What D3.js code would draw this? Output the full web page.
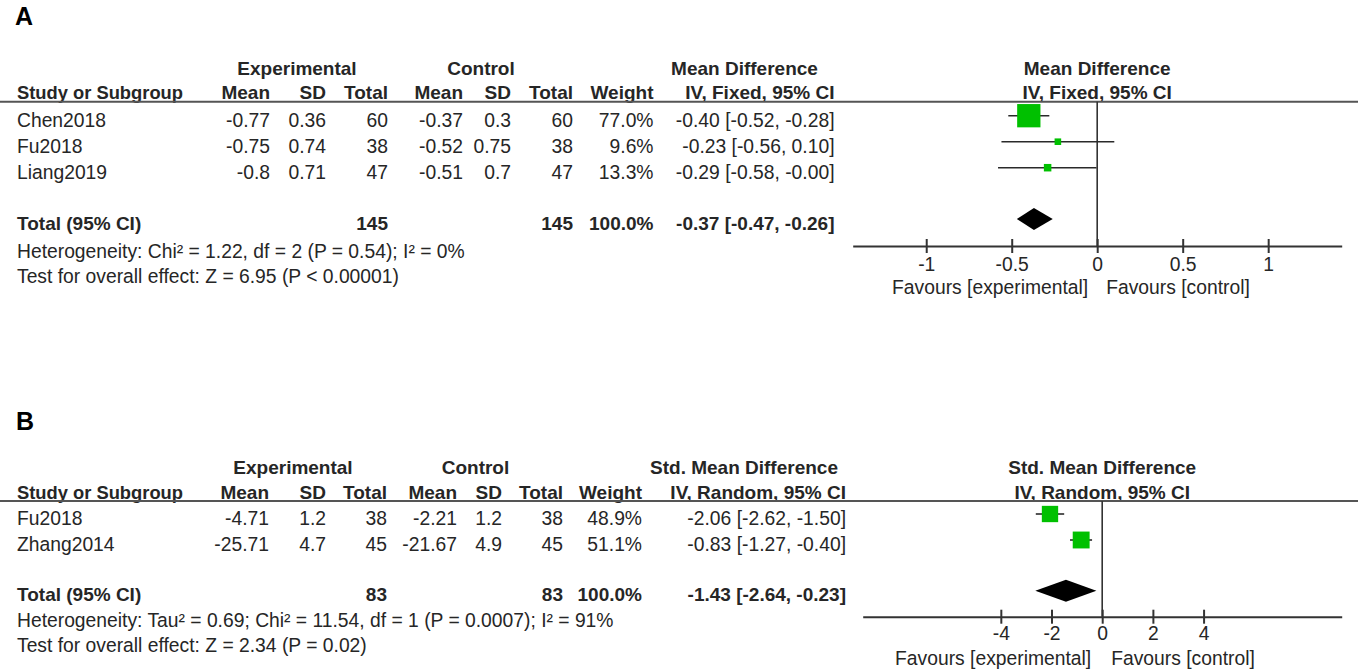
<!DOCTYPE html>
<html><head><meta charset="utf-8">
<script src="https://cdn.jsdelivr.net/npm/d3@7"></script>
<style>
body{margin:0;background:#fff;}
svg{display:block;font-family:"Liberation Sans",Arial,sans-serif;}
</style></head><body>
<svg id="chart" width="1359" height="670"></svg>
<script>
// ---------- Panel A data ----------
const studiesA = ["Chen2018", "Fu2018", "Liang2019"];
const expMeanA = [-0.77, -0.75, -0.8];
const expSDA = [0.36, 0.74, 0.71];
const expNA = [60, 38, 47];
const ctlMeanA = [-0.37, -0.52, -0.51];
const ctlSDA = [0.3, 0.75, 0.7];
const ctlNA = [60, 38, 47];
const weightA = [77.0, 9.6, 13.3];
const effectA = [-0.40, -0.23, -0.29];
const lowerA = [-0.52, -0.56, -0.58];
const upperA = [-0.28, 0.10, -0.004];
const totalNA = [145, 145];
const totalWeightA = 100.0;
const totalCIA = [-0.37, -0.47, -0.26];
const hetA = "Heterogeneity: Chi\u00b2 = 1.22, df = 2 (P = 0.54); I\u00b2 = 0%";
const testA = "Test for overall effect: Z = 6.95 (P < 0.00001)";
const ticksA = [-1, -0.5, 0, 0.5, 1];
const domainA = [-1.43, 1.43];
const effectTitleA = "Mean Difference";
const methodA = "IV, Fixed, 95% CI";

// ---------- Panel B data ----------
const studiesB = ["Fu2018", "Zhang2014"];
const expMeanB = [-4.71, -25.71];
const expSDB = [1.2, 4.7];
const expNB = [38, 45];
const ctlMeanB = [-2.21, -21.67];
const ctlSDB = [1.2, 4.9];
const ctlNB = [38, 45];
const weightB = [48.9, 51.1];
const effectB = [-2.06, -0.83];
const lowerB = [-2.62, -1.27];
const upperB = [-1.50, -0.40];
const totalNB = [83, 83];
const totalWeightB = 100.0;
const totalCIB = [-1.43, -2.64, -0.23];
const hetB = "Heterogeneity: Tau\u00b2 = 0.69; Chi\u00b2 = 11.54, df = 1 (P = 0.0007); I\u00b2 = 91%";
const testB = "Test for overall effect: Z = 2.34 (P = 0.02)";
const ticksB = [-4, -2, 0, 2, 4];
const domainB = [-9.45, 9.45];
const effectTitleB = "Std. Mean Difference";
const methodB = "IV, Random, 95% CI";

const favourLeft = "Favours [experimental]";
const favourRight = "Favours [control]";

// ---------- drawing ----------
const svg = d3.select("#chart");
const TXT = "#262626";
const FS = 19.3;
const FSB = 19;
const f2 = v => v.toFixed(2);
const ciText = (e, l, u) => `${f2(e)} [${f2(l)}, ${f2(u)}]`;
const sizeScale = d3.scaleLinear().domain([0, 100]).range([4.2, 29]);

function drawPanel(d, L) {
  const g = svg.append("g");
  const text = (x, y, s, anchor, bold) =>
    g.append("text").attr("x", x).attr("y", y).attr("text-anchor", anchor || "start")
      .attr("font-weight", bold ? "bold" : "normal").attr("font-size", bold ? FSB : FS)
      .attr("fill", TXT).text(s);

  // panel letter
  g.append("text").attr("x", L.letterX).attr("y", L.letterY).attr("font-size", 25)
    .attr("font-weight", "bold").attr("fill", "#000").text(d.letter);

  // group headers
  text(L.groupExpX, L.groupY, "Experimental", "middle", true);
  text(L.groupCtlX, L.groupY, "Control", "middle", true);
  text(L.groupEffX, L.groupY, d.effectTitle, "middle", true);

  // column headers
  const c = L.cols;
  text(17, L.headY, "Study or Subgroup", "start", true).attr("textLength", 166).attr("lengthAdjust", "spacingAndGlyphs");
  text(c.expMean, L.headY, "Mean", "end", true);
  text(c.expSD, L.headY, "SD", "end", true);
  text(c.expN, L.headY, "Total", "end", true);
  text(c.ctlMean, L.headY, "Mean", "end", true);
  text(c.ctlSD, L.headY, "SD", "end", true);
  text(c.ctlN, L.headY, "Total", "end", true);
  text(c.weight, L.headY, "Weight", "end", true);
  text(c.ci, L.headY, d.method, "end", true);

  // plot scale
  const x = d3.scaleLinear().domain(d.domain).range(L.plotRange);
  const x0 = x(0);
  text(x0, L.groupY, d.effectTitle, "middle", true);
  text(x0, L.headY, d.method, "middle", true);

  // header rule
  g.append("line").attr("x1", 0).attr("x2", 1358).attr("y1", L.lineY).attr("y2", L.lineY)
    .attr("stroke", "#555").attr("stroke-width", 2);

  // study rows
  d.studies.forEach((s, i) => {
    const y = L.rows[i];
    text(17, y, s);
    text(c.expMean, y, String(d.expMean[i]), "end");
    text(c.expSD, y, String(d.expSD[i]), "end");
    text(c.expN, y, String(d.expN[i]), "end");
    text(c.ctlMean, y, String(d.ctlMean[i]), "end");
    text(c.ctlSD, y, String(d.ctlSD[i]), "end");
    text(c.ctlN, y, String(d.ctlN[i]), "end");
    text(c.weight, y, d.weight[i].toFixed(1) + "%", "end");
    text(c.ci, y, ciText(d.effect[i], d.lower[i], d.upper[i]), "end");
  });

  // total row
  text(17, L.totalY, "Total (95% CI)", "start", true);
  text(c.expN, L.totalY, String(d.totalN[0]), "end", true);
  text(c.ctlN, L.totalY, String(d.totalN[1]), "end", true);
  text(c.weight, L.totalY, d.totalWeight.toFixed(1) + "%", "end", true);
  text(c.ci, L.totalY, ciText(d.totalCI[0], d.totalCI[1], d.totalCI[2]), "end", true);
  text(17, L.hetY, d.het);
  text(17, L.testY, d.test);

  // zero line
  g.append("line").attr("x1", x0).attr("x2", x0).attr("y1", L.lineY).attr("y2", L.axisY)
    .attr("stroke", "#333").attr("stroke-width", 1.6);

  // CI lines and squares
  const pts = d.studies.map((s, i) => ({ i, y: L.rows[i] + L.markOff }));
  g.selectAll(".ci").data(pts).join("line")
    .attr("x1", p => x(d.lower[p.i])).attr("x2", p => x(d.upper[p.i]))
    .attr("y1", p => p.y).attr("y2", p => p.y)
    .attr("stroke", "#2a2a2a").attr("stroke-width", 1.6);
  g.selectAll(".sq").data(pts).join("rect")
    .attr("x", p => x(d.effect[p.i]) - sizeScale(d.weight[p.i]) / 2)
    .attr("y", p => p.y - sizeScale(d.weight[p.i]) / 2)
    .attr("width", p => sizeScale(d.weight[p.i]))
    .attr("height", p => sizeScale(d.weight[p.i]))
    .attr("fill", "#00c000");

  // diamond
  const dy = L.totalY + L.diamOff, h = 11;
  g.append("path")
    .attr("d", `M${x(d.totalCI[1])},${dy}L${x(d.totalCI[0])},${dy - h}L${x(d.totalCI[2])},${dy}L${x(d.totalCI[0])},${dy + h}Z`)
    .attr("fill", "#000");

  // axis
  const ax = g.append("g").attr("transform", `translate(0,${L.axisY})`)
    .call(d3.axisBottom(x).tickValues(d.ticks).tickFormat(v => String(v)).tickSizeOuter(0).tickSizeInner(7));
  ax.attr("font-size", FS).attr("font-family", null);
  ax.select(".domain").attr("stroke", "#333").attr("stroke-width", 2);
  ax.selectAll(".tick line").attr("y1", -7).attr("y2", 7).attr("stroke", "#333").attr("stroke-width", 2);
  ax.selectAll(".tick text").attr("y", L.tickLabelY - L.axisY).attr("dy", null).attr("fill", TXT);

  text(x0 - L.favGapL, L.favY, favourLeft, "end");
  text(x0 + L.favGapR, L.favY, favourRight, "start");
}

drawPanel({
  letter: "A", studies: studiesA, expMean: expMeanA, expSD: expSDA, expN: expNA,
  ctlMean: ctlMeanA, ctlSD: ctlSDA, ctlN: ctlNA, weight: weightA, effect: effectA,
  lower: lowerA, upper: upperA, totalN: totalNA, totalWeight: totalWeightA, totalCI: totalCIA,
  het: hetA, test: testA, ticks: ticksA, domain: domainA, effectTitle: effectTitleA, method: methodA
}, {
  letterX: 15, letterY: 25,
  groupY: 75, headY: 99, lineY: 101.7,
  groupExpX: 297, groupCtlX: 481, groupEffX: 744.5,
  cols: { expMean: 270, expSD: 326, expN: 388, ctlMean: 463, ctlSD: 511, ctlN: 573, weight: 653.5, ci: 834.5 },
  rows: [127.3, 153.3, 179.3], totalY: 229.5, hetY: 257.5, testY: 282.5,
  markOff: -11.6, diamOff: -10.5,
  plotRange: [852.7, 1341.7], axisY: 246, tickLabelY: 270.7, favY: 293.5, favGapL: 9, favGapR: 9
});

drawPanel({
  letter: "B", studies: studiesB, expMean: expMeanB, expSD: expSDB, expN: expNB,
  ctlMean: ctlMeanB, ctlSD: ctlSDB, ctlN: ctlNB, weight: weightB, effect: effectB,
  lower: lowerB, upper: upperB, totalN: totalNB, totalWeight: totalWeightB, totalCI: totalCIB,
  het: hetB, test: testB, ticks: ticksB, domain: domainB, effectTitle: effectTitleB, method: methodB
}, {
  letterX: 16, letterY: 430,
  groupY: 473.5, headY: 498.5, lineY: 501,
  groupExpX: 293, groupCtlX: 475.5, groupEffX: 744,
  cols: { expMean: 269, expSD: 326, expN: 387, ctlMean: 457, ctlSD: 502, ctlN: 563, weight: 642, ci: 846 },
  rows: [525, 551], totalY: 600.5, hetY: 627, testY: 652,
  markOff: -11, diamOff: -9.8,
  plotRange: [862.7, 1341.7], axisY: 616.7, tickLabelY: 640, favY: 665, favGapL: 11, favGapR: 9
});
</script>
</body></html>
